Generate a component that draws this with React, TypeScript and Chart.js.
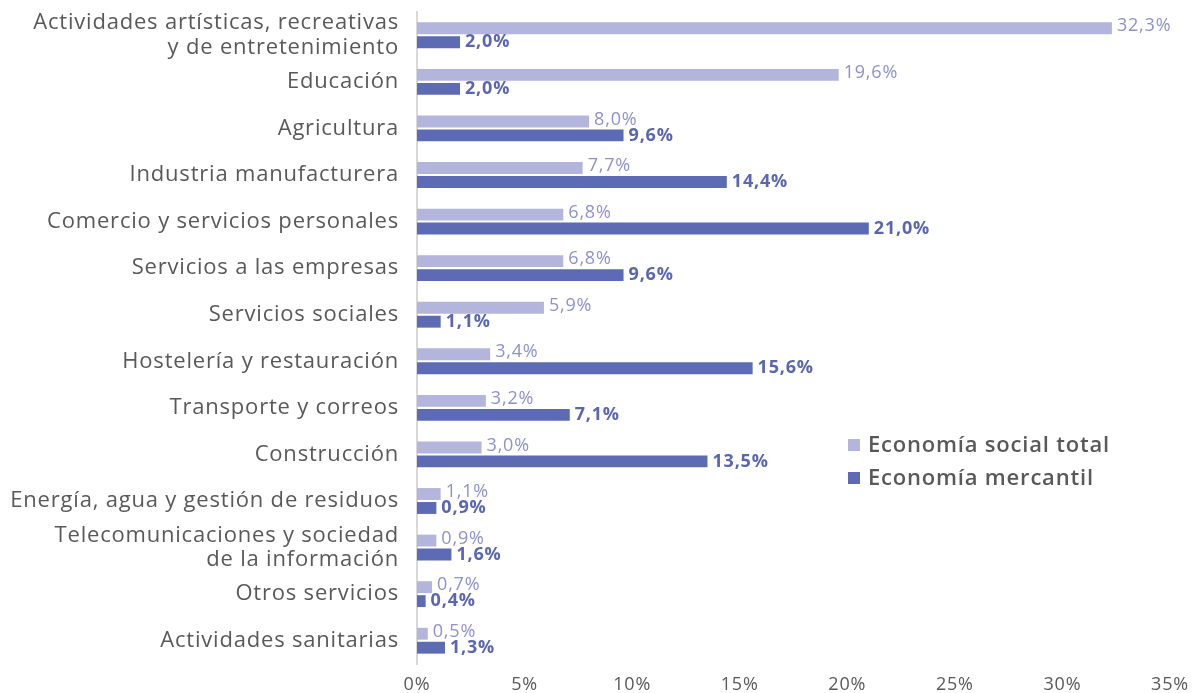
import React, { useEffect, useRef } from "react";
import { Chart, registerables } from "chart.js";

Chart.register(...registerables);

const categories: (string | string[])[] = [
  ["Actividades artísticas, recreativas", "y de entretenimiento"],
  "Educación",
  "Agricultura",
  "Industria manufacturera",
  "Comercio y servicios personales",
  "Servicios a las empresas",
  "Servicios sociales",
  "Hostelería y restauración",
  "Transporte y correos",
  "Construcción",
  "Energía, agua y gestión de residuos",
  ["Telecomunicaciones y sociedad", "de la información"],
  "Otros servicios",
  "Actividades sanitarias",
];

const socialTotal = [32.3, 19.6, 8.0, 7.7, 6.8, 6.8, 5.9, 3.4, 3.2, 3.0, 1.1, 0.9, 0.7, 0.5];
const mercantil = [2.0, 2.0, 9.6, 14.4, 21.0, 9.6, 1.1, 15.6, 7.1, 13.5, 0.9, 1.6, 0.4, 1.3];

const seriesNames = ["Economía social total", "Economía mercantil"];
const xTicks = [0, 5, 10, 15, 20, 25, 30, 35];

const LIGHT = "#b3b5dc";
const DARK = "#5c6bb3";
const LIGHT_LABEL = "#8d92ca";
const DARK_LABEL = "#5a66b1";
const TEXT = "#595959";
const FONT = "'Open Sans', Lato, sans-serif";
const SPACING = "0.8px";

const fmt = (v: number) => v.toFixed(1).replace(".", ",") + "%";

const spacingPlugin = {
  id: "letterSpacing",
  beforeInit(chart: any) {
    chart.ctx.letterSpacing = SPACING;
  },
  beforeUpdate(chart: any) {
    chart.ctx.letterSpacing = SPACING;
  },
  beforeDraw(chart: any) {
    chart.ctx.letterSpacing = SPACING;
  },
};

const labelPlugin = {
  id: "barLabels",
  afterDatasetsDraw(chart: any) {
    const ctx = chart.ctx;
    ctx.save();
    ctx.letterSpacing = SPACING;
    chart.data.datasets.forEach((ds: any, di: number) => {
      const meta = chart.getDatasetMeta(di);
      meta.data.forEach((el: any, i: number) => {
        const v = ds.data[i];
        ctx.font = di === 0 ? `500 18px ${FONT}` : `bold 18px ${FONT}`;
        ctx.fillStyle = di === 0 ? LIGHT_LABEL : DARK_LABEL;
        ctx.textAlign = "left";
        ctx.textBaseline = "middle";
        ctx.fillText(fmt(v), el.x + 5, el.y - (di === 0 ? 2 : 0));
      });
    });
    ctx.restore();
  },
};

const legendPlugin = {
  id: "customLegend",
  afterDraw(chart: any) {
    const ctx = chart.ctx;
    ctx.save();
    ctx.letterSpacing = SPACING;
    const colors = [LIGHT, DARK];
    const x = 848;
    const ys = [445, 478];
    seriesNames.forEach((name, i) => {
      ctx.fillStyle = colors[i];
      ctx.fillRect(x, ys[i] - 6, 12, 12);
      ctx.font = `600 22px ${FONT}`;
      ctx.fillStyle = TEXT;
      ctx.textAlign = "left";
      ctx.textBaseline = "middle";
      ctx.fillText(name, x + 20, ys[i] + 1);
    });
    ctx.restore();
  },
};

export default function App() {
  const ref = useRef<HTMLCanvasElement>(null);

  useEffect(() => {
    document.body.style.margin = "0";
    const chart = new Chart(ref.current!, {
      type: "bar",
      data: {
        labels: categories as any,
        datasets: [
          {
            label: seriesNames[0],
            data: socialTotal,
            backgroundColor: LIGHT,
            categoryPercentage: 0.6,
            barPercentage: 0.85,
          },
          {
            label: seriesNames[1],
            data: mercantil,
            backgroundColor: DARK,
            categoryPercentage: 0.6,
            barPercentage: 0.85,
          },
        ],
      },
      options: {
        indexAxis: "y",
        animation: false,
        responsive: false,
        maintainAspectRatio: false,
        layout: { padding: { top: 12, right: 23, bottom: 0, left: 0 } },
        plugins: {
          legend: { display: false },
          tooltip: { enabled: false },
        },
        scales: {
          x: {
            min: 0,
            max: 35,
            afterBuildTicks: (scale: any) => {
              scale.ticks = xTicks.map((v) => ({ value: v }));
            },
            afterFit: (scale: any) => {
              scale.height = 29;
              scale.paddingLeft = 0;
              scale.paddingRight = 0;
            },
            grid: { display: false, drawTicks: false },
            border: { display: false },
            ticks: {
              autoSkip: false,
              padding: 10,
              color: TEXT,
              font: { family: FONT, size: 18 },
              callback: (v: any) => v + "%",
            },
          },
          y: {
            afterFit: (scale: any) => {
              scale.width = 417;
              scale.paddingTop = 0;
              scale.paddingBottom = 0;
            },
            grid: { display: false, drawTicks: false },
            border: { display: true, color: "#d9d9d9", width: 2 },
            ticks: {
              autoSkip: false,
              padding: 18,
              color: TEXT,
              font: { family: FONT, size: 22, lineHeight: 1.1 },
            },
          },
        },
      },
      plugins: [spacingPlugin, labelPlugin, legendPlugin],
    });
    return () => chart.destroy();
  }, []);

  return (
    <div style={{ width: 1193, height: 693, background: "#fff" }}>
      <canvas ref={ref} width={1193} height={693} style={{ display: "block" }} />
    </div>
  );
}
